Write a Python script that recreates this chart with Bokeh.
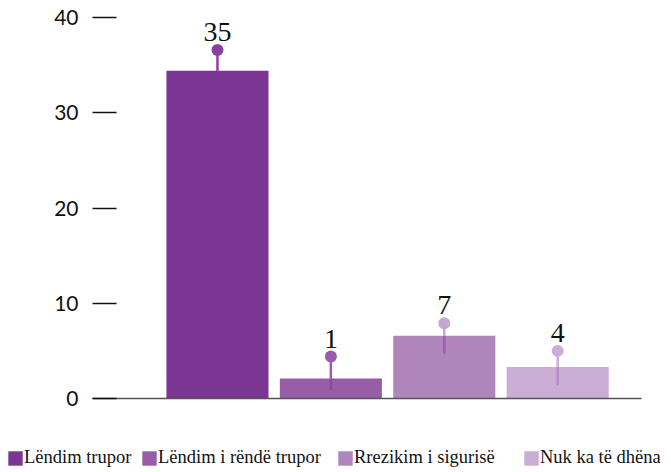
from bokeh.plotting import figure
from bokeh.layouts import column, row
from bokeh.models import Range1d, FixedTicker, Legend, LegendItem, ColumnDataSource
from bokeh.core.properties import value
from bokeh.embed import file_html
from bokeh.resources import INLINE

categories = ["Lëndim trupor", "Lëndim i rëndë trupor", "Rrezikim i sigurisë", "Nuk ka të dhëna"]
bar_values = [34.4, 2.1, 6.6, 3.3]
point_values = [36.6, 4.4, 7.9, 5.0]
low_values = [33.0, 0.85, 4.7, 1.4]
labels = ["35", "1", "7", "4"]
y_ticks = [0, 10, 20, 30, 40]

bar_colors = ["#7B3593", "#975EA8", "#B085BC", "#C9ADD5"]
point_colors = ["#8B3FA1", "#9A5CAE", "#C8A6D4", "#CBADD8"]
inner_colors = ["#7B3593", "#8A4B9E", "#9B62AB", "#B98BC6"]

xs = list(range(1, len(categories) + 1))
src = ColumnDataSource(dict(x=xs, cat=categories, top=bar_values, point=point_values,
                            low=low_values, label=labels, bar_color=bar_colors,
                            point_color=point_colors, inner_color=inner_colors))

p = figure(width=660, height=420, output_backend="svg", toolbar_location=None,
           x_range=Range1d(-0.102, 4.739), y_range=Range1d(0, 40),
           min_border_left=92, min_border_right=19, min_border_top=17, min_border_bottom=22)
p.outline_line_color = None
p.xgrid.visible = False
p.ygrid.visible = False

bars = p.vbar(x="x", top="top", width=0.9, bottom=0, fill_color="bar_color", line_color=None, source=src)
p.segment(x0="x", y0="low", x1="x", y1="top", line_color="inner_color", line_width=2.5, source=src)
p.segment(x0="x", y0="top", x1="x", y1="point", line_color="point_color", line_width=2.5, source=src)
p.scatter(x="x", y="point", size=12, fill_color="point_color", line_color=None, source=src)
p.text(x="x", y="point", text="label", text_align="center", text_baseline="alphabetic",
       y_offset=-18, text_font=value("Liberation Serif"), text_font_size="28px",
       text_color="#111111", source=src)

xa = p.xaxis[0]
xa.ticker = FixedTicker(ticks=[])
xa.major_tick_line_color = None
xa.minor_tick_line_color = None
xa.axis_line_color = "#555555"
xa.axis_line_width = 1.5

ya = p.yaxis[0]
ya.ticker = FixedTicker(ticks=y_ticks)
ya.axis_line_color = None
ya.major_tick_in = 24
ya.major_tick_out = 0
ya.major_tick_line_color = "#111111"
ya.major_tick_line_width = 1.3
ya.minor_tick_line_color = None
ya.major_label_standoff = 14
ya.major_label_text_font = "Lato"
ya.major_label_text_font_size = "21px"
ya.major_label_text_color = "#111111"

# legend strip
lg = figure(width=660, height=50, output_backend="svg", toolbar_location=None,
            x_range=Range1d(100, 101), y_range=Range1d(100, 101),
            min_border_left=0, min_border_right=0, min_border_top=0, min_border_bottom=0)
lg.axis.visible = False
lg.xgrid.visible = False
lg.ygrid.visible = False
lg.outline_line_color = None
lbars = lg.vbar(x="x", top="top", width=0.9, bottom=0, fill_color="bar_color", line_color=None, source=src)

offsets = [6, 140, 336, 522]
for i, cat in enumerate(categories):
    item = LegendItem(label=cat, renderers=[lbars], index=i)
    leg = Legend(items=[item], location=(offsets[i], 2), orientation="horizontal",
                 glyph_width=18, glyph_height=18, label_height=18, label_standoff=0,
                 padding=0, margin=0, border_line_color=None, background_fill_alpha=0,
                 label_text_font="Liberation Serif", label_text_font_size="18.5px",
                 label_text_color="#111111")
    lg.add_layout(leg)

layout = column(p, row(lg), spacing=0)
open("out.html", "w").write(file_html(layout, INLINE))
